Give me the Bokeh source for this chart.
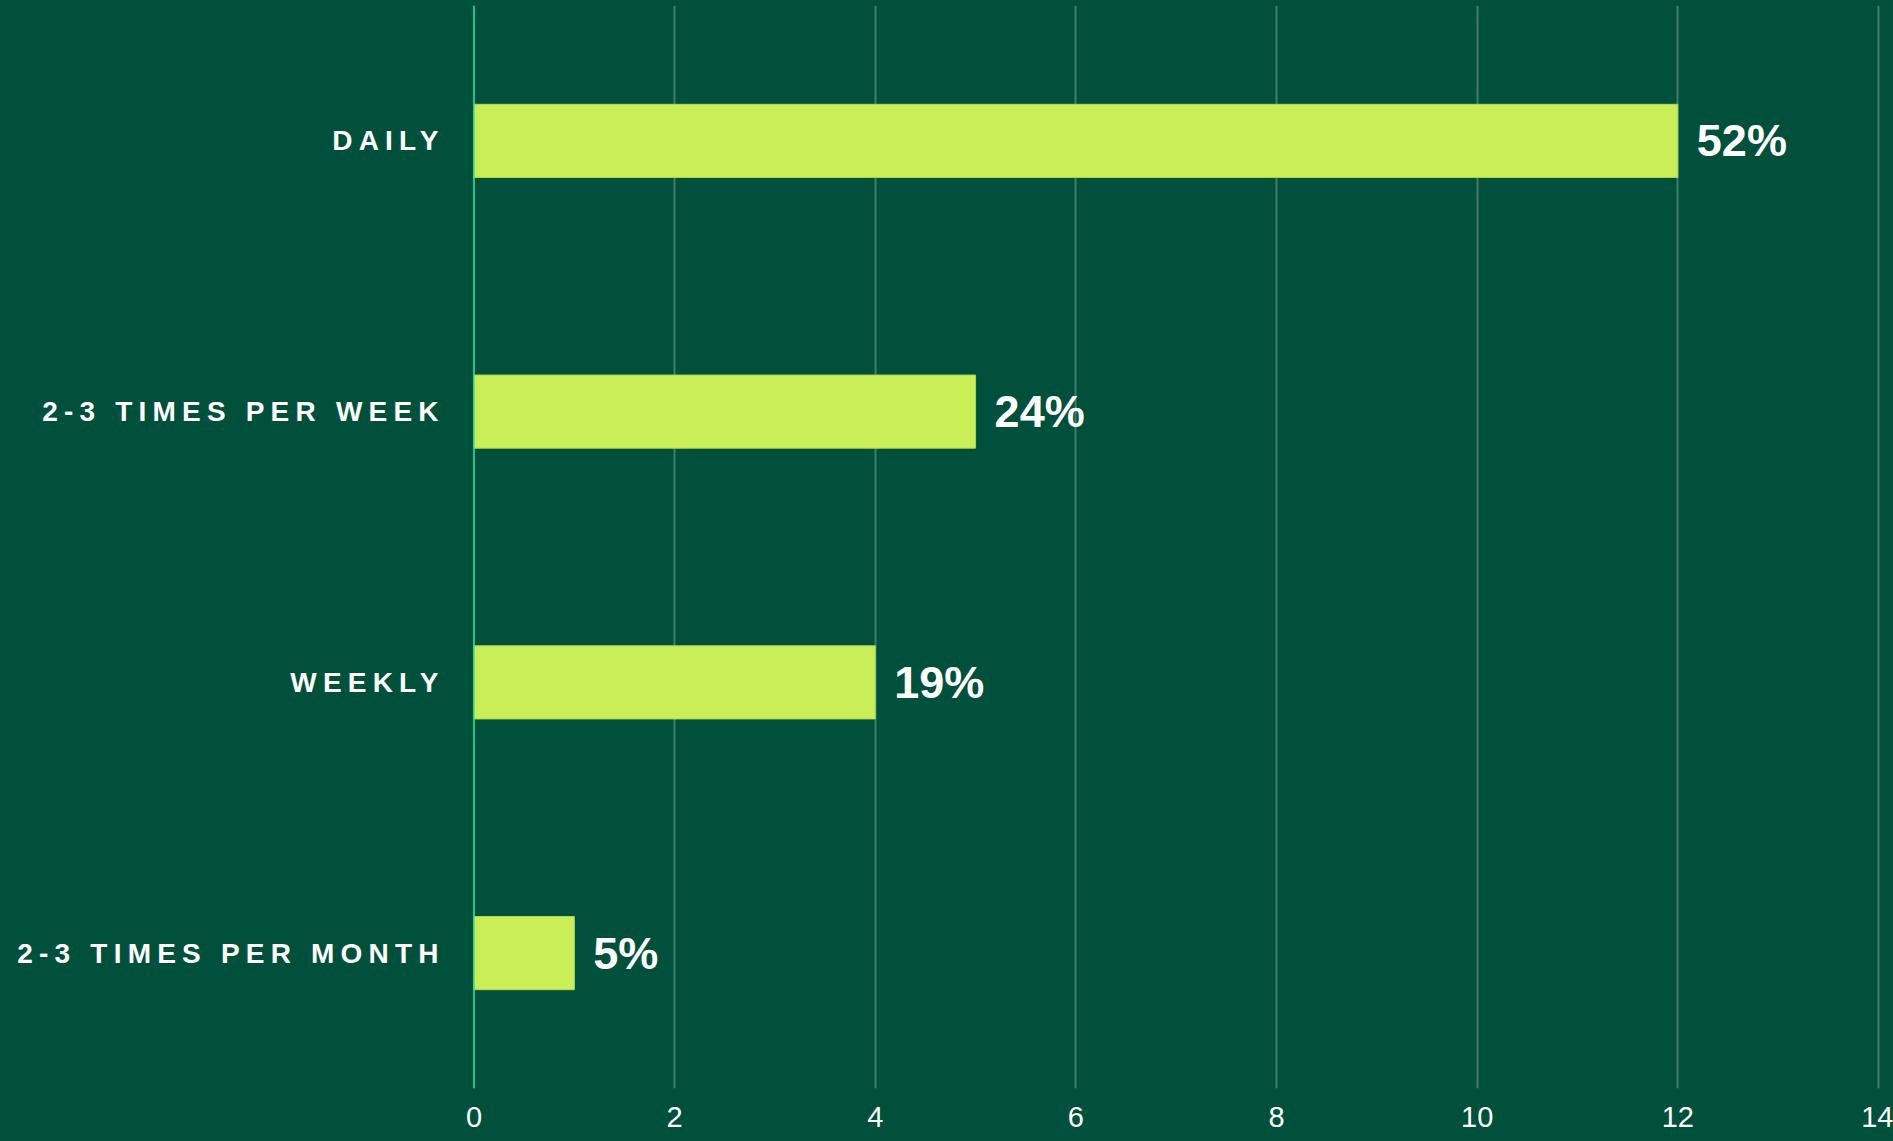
from bokeh.plotting import figure
from bokeh.layouts import row
from bokeh.models import (ColumnDataSource, FactorRange, Range1d, Span,
                          InlineStyleSheet, FixedTicker)
from bokeh.core.properties import value
from bokeh.embed import file_html
from bokeh.resources import INLINE

# ---- data ----
categories = ["DAILY", "2-3 TIMES PER WEEK", "WEEKLY", "2-3 TIMES PER MONTH"]
counts = [12, 5, 4, 1]
percent_labels = ["52%", "24%", "19%", "5%"]
x_ticks = [0, 2, 4, 6, 8, 10, 12, 14]

# ---- styles ----
BG = "#00503b"
BAR = "#c9ee58"
BAR_EDGE = "#b4d94e"
MINT = "#2eea9f"
FONT = "Liberation Sans"
LETTER_SPACING = 6.2
H = 1141
W_LEFT = 460
W_RIGHT = 1893 - W_LEFT
PX_PER_UNIT = 100.32
ZERO_X = 473.5          # page x of the value 0
LABEL_RIGHT = 438       # page x where category labels end

y_range = FactorRange(factors=list(reversed(categories)))

source = ColumnDataSource(data=dict(cat=categories, count=counts, pct=percent_labels))

bg_sheet = InlineStyleSheet(css=":host { background-color: %s; }" % BG)


def style_xaxis(fig):
    ax = fig.xaxis[0]
    ax.axis_line_color = None
    ax.major_tick_line_color = None
    ax.minor_tick_line_color = None
    ax.major_tick_out = 0
    ax.major_tick_in = 0
    ax.minor_tick_out = 0
    ax.minor_tick_in = 0
    ax.major_label_text_font = FONT
    ax.major_label_text_font_size = "29px"
    ax.major_label_text_color = "white"
    ax.major_label_standoff = 18


common = dict(height=H, y_range=y_range, y_axis_location=None,
              output_backend="svg", toolbar_location=None,
              background_fill_color=BG, border_fill_color=BG, outline_line_color=None,
              min_border_left=0, min_border_right=0, min_border_top=5, min_border_bottom=0)

# ---- main plot (bars) ----
x_start = -(ZERO_X - W_LEFT) / PX_PER_UNIT
x_end = x_start + W_RIGHT / PX_PER_UNIT
p = figure(width=W_RIGHT, x_range=Range1d(x_start, x_end),
           stylesheets=[bg_sheet], **common)
p.xaxis.ticker = FixedTicker(ticks=x_ticks)
style_xaxis(p)
p.xgrid.ticker = FixedTicker(ticks=x_ticks[1:])
p.xgrid.grid_line_color = "white"
p.xgrid.grid_line_alpha = 0.25
p.xgrid.grid_line_width = 2
p.ygrid.grid_line_color = None

p.hbar(y="cat", left=0, right="count", height=0.27, source=source,
       fill_color=BAR, line_color=BAR_EDGE, line_width=1)
p.add_layout(Span(location=0, dimension="height", line_color=MINT, line_width=1.5))
p.text(x="count", y="cat", text="pct", source=source, x_offset=19,
       text_baseline="middle", text_align="left",
       text_font=value(FONT), text_font_style="bold", text_font_size="45px",
       text_color="white")

# ---- left label panel (letter-spaced category labels) ----
offsets = [-(W_LEFT - LABEL_RIGHT) - (len(c) - 1) * LETTER_SPACING for c in categories]
lab_src = ColumnDataSource(data=dict(cat=categories, off=offsets, anchor=[1] * len(categories)))

q = figure(width=W_LEFT, x_range=Range1d(0, 1),
           stylesheets=[bg_sheet,
                        InlineStyleSheet(css=":host { letter-spacing: %.1fpx; }" % LETTER_SPACING)],
           **common)
q.xaxis.ticker = FixedTicker(ticks=[0.5])
q.xaxis.major_label_overrides = {0.5: " "}
style_xaxis(q)
q.grid.grid_line_color = None
q.text(x="anchor", y="cat", text="cat", source=lab_src, x_offset="off",
       text_align="right", text_baseline="middle",
       text_font=value(FONT), text_font_style="bold", text_font_size="28px",
       text_color="white")

layout = row(q, p, spacing=0, stylesheets=[bg_sheet])
open("out.html", "w").write(file_html(layout, INLINE))
